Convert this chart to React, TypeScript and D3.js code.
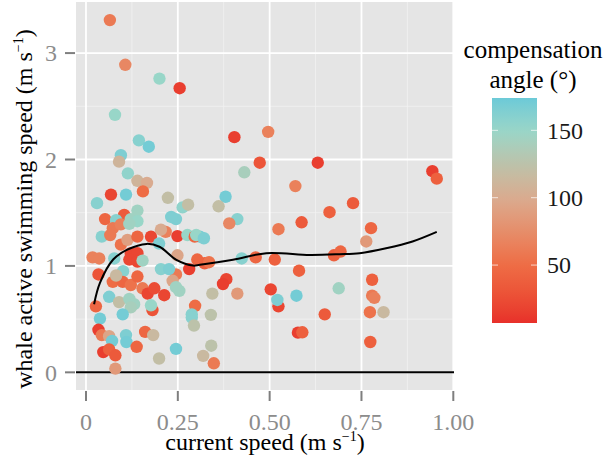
import React from "react";
import * as d3 from "d3";

const speed = [0.065,0.107,0.20,0.255,0.079,0.144,0.171,0.095,0.09,0.114,0.14,0.166,0.155,0.068,0.109,0.223,0.03,0.404,0.496,0.473,0.431,0.631,0.57,0.38,0.727,0.943,0.955,0.663,0.587,0.524,0.776,0.763,0.675,0.693,0.58,0.779,0.688,0.573,0.779,0.785,0.524,0.521,0.65,0.773,0.81,0.577,0.589,0.774,0.412,0.39,0.361,0.424,0.462,0.514,0.323,0.335,0.382,0.373,0.344,0.412,0.503,0.34,0.341,0.319,0.348,0.31,0.263,0.278,0.245,0.249,0.276,0.296,0.30,0.321,0.249,0.303,0.281,0.245,0.254,0.297,0.288,0.288,0.294,0.245,0.14,0.052,0.104,0.082,0.122,0.14,0.232,0.073,0.095,0.118,0.043,0.066,0.095,0.113,0.14,0.177,0.217,0.204,0.199,0.122,0.14,0.018,0.036,0.077,0.118,0.14,0.154,0.034,0.101,0.073,0.1,0.122,0.082,0.14,0.154,0.168,0.186,0.213,0.181,0.177,0.204,0.226,0.236,0.245,0.063,0.09,0.118,0.131,0.122,0.1,0.027,0.038,0.034,0.043,0.063,0.071,0.047,0.063,0.08,0.08,0.109,0.11,0.138,0.161,0.183,0.199];
const swim = [3.31,2.89,2.76,2.67,2.42,2.18,2.12,2.04,1.98,1.87,1.80,1.78,1.70,1.67,1.67,1.64,1.59,2.21,2.26,1.97,1.88,1.97,1.75,1.65,1.59,1.89,1.82,1.505,1.41,1.345,1.355,1.23,1.10,1.135,0.955,0.87,0.79,0.72,0.72,0.70,0.62,0.68,0.545,0.565,0.565,0.373,0.376,0.285,1.44,1.40,1.56,1.07,1.08,1.06,1.025,1.035,0.875,0.83,0.74,0.74,0.78,0.54,0.25,0.155,0.085,1.275,1.55,1.575,1.44,1.28,1.29,1.275,1.29,1.26,1.10,1.06,0.97,0.92,0.765,0.625,0.545,0.515,0.44,0.22,1.52,1.44,1.48,1.43,1.44,1.42,1.46,1.355,1.39,1.395,1.275,1.29,1.20,1.245,1.275,1.275,1.32,1.34,1.21,1.12,1.12,1.08,1.07,1.07,1.06,1.04,1.05,0.92,0.95,0.85,0.85,0.82,0.91,0.90,0.79,0.74,0.79,0.725,0.585,0.63,0.97,0.97,0.86,0.80,0.71,0.66,0.69,0.64,0.61,0.545,0.62,0.505,0.40,0.35,0.34,0.295,0.19,0.215,0.16,0.035,0.35,0.285,0.24,0.38,0.35,0.13];
const angle = [60,70,150,15,150,160,170,165,110,155,110,100,50,20,170,120,160,15,65,30,140,15,65,170,35,15,40,40,35,60,45,85,40,45,40,40,145,170,60,65,20,165,35,55,115,15,40,40,160,70,120,160,45,40,40,55,20,15,120,85,20,125,125,115,60,170,155,120,165,15,150,45,150,165,95,45,15,60,145,50,160,160,125,170,145,45,35,160,145,150,165,60,65,145,160,60,55,90,45,20,65,100,165,20,20,65,65,160,20,20,145,30,160,50,45,55,115,45,60,20,25,20,30,150,160,165,95,145,165,120,145,145,140,170,45,170,15,60,95,170,15,40,35,85,165,170,45,45,115,120];

const smoothX = [0.022,0.038,0.074,0.111,0.165,0.2,0.246,0.292,0.31,0.4,0.491,0.609,0.69,0.745,0.817,0.889,0.955];
const smoothY = [0.64,0.84,1.06,1.15,1.207,1.18,1.057,1.003,1.01,1.057,1.12,1.103,1.11,1.12,1.166,1.23,1.32];

const xTicks = [0, 0.25, 0.5, 0.75, 1];
const xTickLabels = ["0", "0.25", "0.50", "0.75", "1.00"];
const yTicks = [0, 1, 2, 3];
const legendTicks = [50, 100, 150];
const colorStops = [7, 50, 100, 125, 150, 174];
const colorValues = ["#e8302a", "#ee6c45", "#d9ab90", "#bcc2aa", "#98d6c8", "#6ccad8"];

const W = 603, H = 462;
const P = { left: 76, right: 454, top: 2, bottom: 390 };
const FONT = "'Liberation Serif', 'DejaVu Serif', serif";

export default function App() {
  const x = d3.scaleLinear().domain([-0.0272, 1.0019]).range([P.left, P.right]);
  const y = d3.scaleLinear().domain([-0.166, 3.48]).range([P.bottom, P.top]);
  const color = d3.scaleLinear<string>().domain(colorStops).range(colorValues).interpolate(d3.interpolateLab).clamp(true);
  const line = d3.line<number>().x((d, i) => x(smoothX[i])).y((d) => y(d)).curve(d3.curveCatmullRom.alpha(0.5));
  const xMinor = [0.125, 0.375, 0.625, 0.875];
  const yMinor = [0.5, 1.5, 2.5];
  const lg = { x0: 492, x1: 537, top: 98, bottom: 323 };
  const ly = d3.scaleLinear().domain([7, 174]).range([lg.bottom, lg.top]);
  const gradStops = d3.range(0, 1.0001, 0.05).map((t) => {
    const v = 7 + t * (174 - 7);
    return { off: 1 - t, c: color(v) };
  });
  return (
    <svg width={W} height={H} style={{ position: "absolute", left: 0, top: 0, background: "#fff" }} fontFamily={FONT}>
      <defs>
        <linearGradient id="lg" x1="0" y1="0" x2="0" y2="1">
          {gradStops.slice().reverse().map((s, i) => (
            <stop key={i} offset={s.off} stopColor={s.c} />
          ))}
        </linearGradient>
        <clipPath id="pc"><rect x={P.left} y={P.top} width={P.right - P.left} height={P.bottom - P.top} /></clipPath>
      </defs>
      <rect x={P.left} y={P.top} width={P.right - P.left} height={P.bottom - P.top} fill="#e5e5e5" />
      {xMinor.map((v) => <line key={"xm" + v} x1={x(v)} x2={x(v)} y1={P.top} y2={P.bottom} stroke="#f2f2f2" strokeWidth={0.8} />)}
      {yMinor.map((v) => <line key={"ym" + v} x1={P.left} x2={P.right} y1={y(v)} y2={y(v)} stroke="#f2f2f2" strokeWidth={0.8} />)}
      {xTicks.map((v) => <line key={"xM" + v} x1={x(v)} x2={x(v)} y1={P.top} y2={P.bottom} stroke="#fff" strokeWidth={1.8} />)}
      {yTicks.map((v) => <line key={"yM" + v} x1={P.left} x2={P.right} y1={y(v)} y2={y(v)} stroke="#fff" strokeWidth={1.8} />)}
      <g clipPath="url(#pc)">
        <line x1={P.left} x2={P.right} y1={y(0)} y2={y(0)} stroke="#000" strokeWidth={2} />
        {speed.map((s, i) => (
          <circle key={i} cx={x(s)} cy={y(swim[i])} r={6.2} fill={color(angle[i])} />
        ))}
        <path d={line(smoothY) || ""} fill="none" stroke="#000" strokeWidth={2} />
      </g>
      {yTicks.map((v) => (
        <g key={"yt" + v}>
          <line x1={P.left - 11} x2={P.left - 1} y1={y(v)} y2={y(v)} stroke="#7f7f7f" strokeWidth={2} />
          <text x={P.left - 19} y={y(v)} dy="0.35em" textAnchor="end" fontSize={24} fill="#8c8c8c">{v}</text>
        </g>
      ))}
      {xTicks.map((v, i) => (
        <g key={"xt" + v}>
          <line x1={x(v)} x2={x(v)} y1={P.bottom + 1} y2={P.bottom + 11} stroke="#7f7f7f" strokeWidth={2} />
          <text x={x(v)} y={P.bottom + 40} textAnchor="middle" fontSize={24} fill="#8c8c8c">{xTickLabels[i]}</text>
        </g>
      ))}
      <text x={(P.left + P.right) / 2} y={450} textAnchor="middle" fontSize={24} fill="#000">
        current speed (m s<tspan fontSize={14} dy={-9}>−1</tspan><tspan dy={9}>)</tspan>
      </text>
      <text transform="translate(32,209) rotate(-90)" textAnchor="middle" fontSize={24} fill="#000">
        whale active swimming speed (m s<tspan fontSize={14} dy={-9}>−1</tspan><tspan dy={9}>)</tspan>
      </text>
      <text x={533} y={58} textAnchor="middle" fontSize={25} fill="#000">compensation</text>
      <text x={533} y={88} textAnchor="middle" fontSize={25} fill="#000">angle (°)</text>
      <rect x={lg.x0} y={lg.top} width={lg.x1 - lg.x0} height={lg.bottom - lg.top} fill="url(#lg)" />
      {legendTicks.map((v) => (
        <g key={"lt" + v}>
          <line x1={lg.x0} x2={lg.x0 + 6} y1={ly(v)} y2={ly(v)} stroke="#fff" strokeOpacity={0.7} strokeWidth={1} />
          <line x1={lg.x1 - 6} x2={lg.x1} y1={ly(v)} y2={ly(v)} stroke="#fff" strokeOpacity={0.7} strokeWidth={1} />
          <text x={547} y={ly(v)} dy="0.35em" fontSize={24} fill="#1a1a1a">{v}</text>
        </g>
      ))}
    </svg>
  );
}
